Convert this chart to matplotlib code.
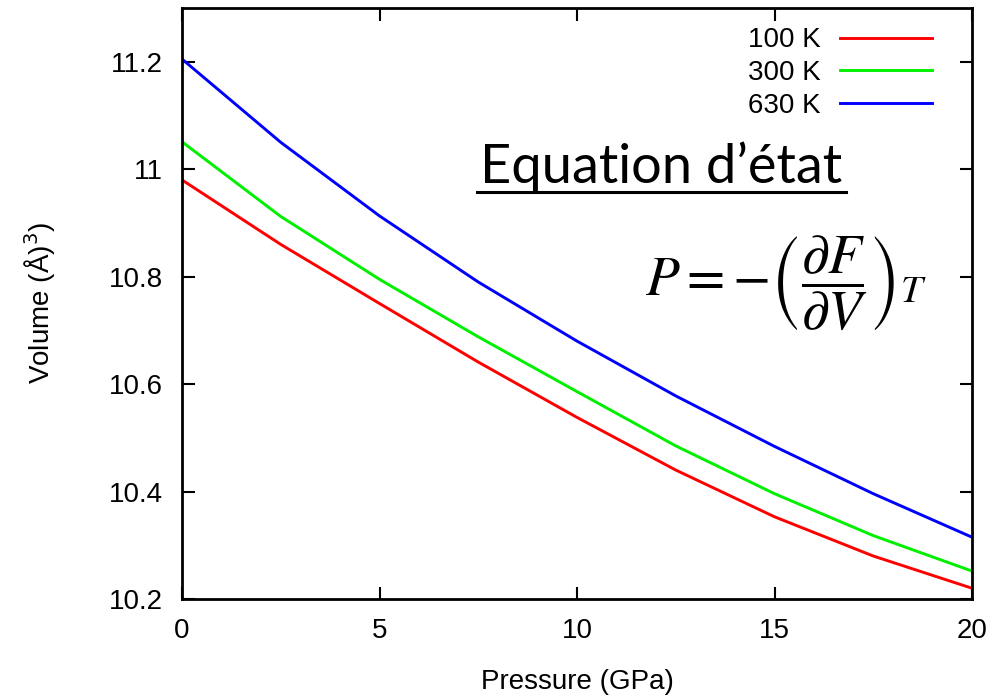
import matplotlib
matplotlib.use('Agg')
import matplotlib.pyplot as plt

plt.rcParams['font.family'] = ['Liberation Sans', 'DejaVu Sans']
plt.rcParams['mathtext.fontset'] = 'stix'

# values
pressure = [0, 2.5, 5, 7.5, 10, 12.5, 15, 17.5, 20]
v_100 = [10.980, 10.860, 10.750, 10.641, 10.538, 10.440, 10.353, 10.280, 10.220]
v_300 = [11.051, 10.912, 10.795, 10.688, 10.586, 10.485, 10.396, 10.318, 10.252]
v_630 = [11.205, 11.050, 10.913, 10.790, 10.680, 10.578, 10.484, 10.396, 10.315]
labels = ['100 K', '300 K', '630 K']
colors = ['#ff0000', '#00f000', '#0000ff']

yticks = [10.2, 10.4, 10.6, 10.8, 11.0, 11.2]
ytick_labels = ['10.2', '10.4', '10.6', '10.8', '11', '11.2']
xticks = [0, 5, 10, 15, 20]

fig = plt.figure(figsize=(9.94, 6.97), dpi=100)
ax = fig.add_axes([0.1831, 0.1406, 0.7948, 0.8479])

for v, lab, c in zip([v_100, v_300, v_630], labels, colors):
    ax.plot(pressure, v, color=c, lw=2.1, label=lab)

ax.set_xlim(0, 20)
ax.set_ylim(10.2, 11.3)
ax.set_xticks(xticks)
ax.set_xticklabels([str(t) for t in xticks])
ax.set_yticks(yticks)
ax.set_yticklabels(ytick_labels)
ax.tick_params(direction='in', length=9, width=1.5, labelsize=20, pad=14,
               top=True, right=True)
for s in ax.spines.values():
    s.set_linewidth(2)

ax.set_xlabel('Pressure (GPa)', fontsize=20, labelpad=18)
ax.set_ylabel(r'Volume (Å)$^{3}$)', fontsize=20, labelpad=36,
              math_fontfamily='dejavusans')

leg = ax.legend(loc='upper right', fontsize=20, frameon=False, markerfirst=False,
                handlelength=3.3, handletextpad=0.7, labelspacing=0.24,
                borderaxespad=0.3, bbox_to_anchor=(0.974, 1.0))

ax.text(0.377, 0.704, 'Equation d\u2019état', transform=ax.transAxes,
        fontsize=39, family=['Lato', 'DejaVu Sans'], va='baseline', ha='left')
ax.plot([0.374, 0.840], [0.689, 0.689], transform=ax.transAxes, color='black', lw=2.2)

ax.text(0.586, 0.536, r'$P=-\left(\dfrac{\partial F}{\partial V}\right)_T$',
        transform=ax.transAxes, fontsize=40, va='center', ha='left')

fig.savefig('out.png', dpi=100)
